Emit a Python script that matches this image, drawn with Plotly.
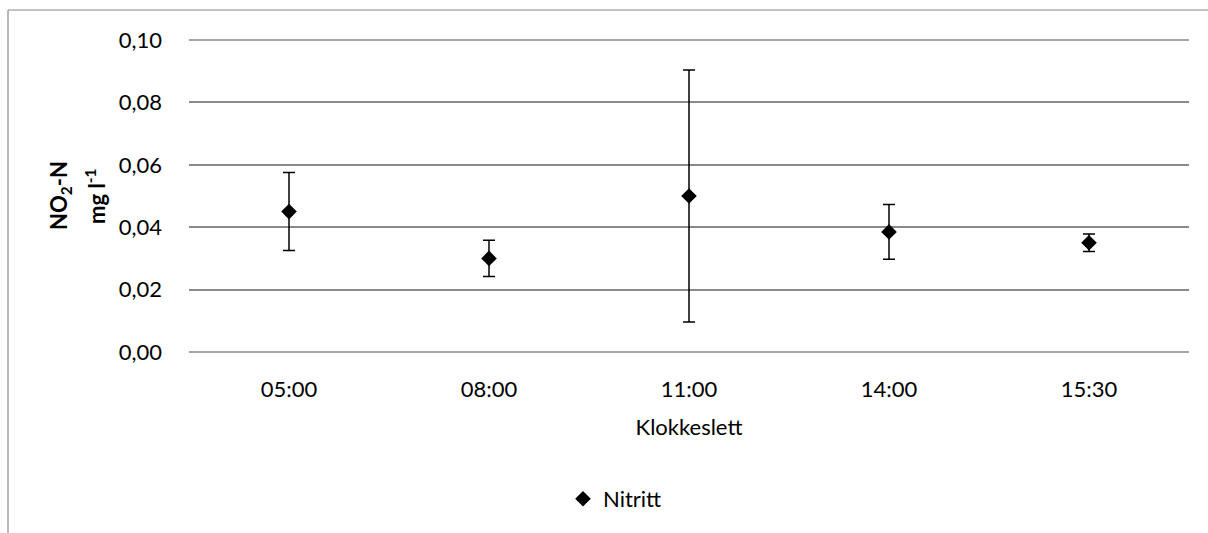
import plotly.graph_objects as go

categories = ["05:00", "08:00", "11:00", "14:00", "15:30"]
nitritt = [0.045, 0.030, 0.050, 0.0385, 0.035]
err = [0.0125, 0.0058, 0.0404, 0.0088, 0.0028]
y_ticks = [0.0, 0.02, 0.04, 0.06, 0.08, 0.10]
y_tick_labels = ["0,00", "0,02", "0,04", "0,06", "0,08", "0,10"]

W, H = 1208, 533
ml, mr, mt, mb = 189, 19, 40, 181
pw, ph = W - ml - mr, H - mt - mb

def px_x(p):
    return (p - ml) / pw

def px_y(p):
    return (H - mb - p) / ph

font = "Lato, 'Open Sans', sans-serif"
fs = 22
grid = "#8a8a8a"

fig = go.Figure()
fig.add_trace(go.Scatter(
    x=categories, y=nitritt, mode="markers", name="Nitritt",
    marker=dict(symbol="diamond", size=12, color="black"),
    error_y=dict(type="data", array=err, visible=True, color="black",
                 thickness=1.5, width=6),
))

fig.update_layout(
    width=W, height=H,
    margin=dict(l=ml, r=mr, t=mt, b=mb),
    paper_bgcolor="white", plot_bgcolor="white",
    font=dict(family=font, size=fs, color="black"),
    showlegend=True,
    legend=dict(orientation="h", x=px_x(563), y=px_y(499), xanchor="left",
                yanchor="middle", font=dict(size=fs), bgcolor="rgba(0,0,0,0)"),
    xaxis=dict(
        type="category", range=[-0.5, 4.5],
        showgrid=False, showline=False, ticks="", zeroline=False,
        ticklabelstandoff=22,
        title=dict(text="Klokkeslett", font=dict(size=fs), standoff=18),
        tickfont=dict(size=fs),
    ),
    yaxis=dict(
        range=[0, 0.10], tickvals=y_ticks, ticktext=y_tick_labels,
        showgrid=True, gridcolor=grid, gridwidth=1.5,
        showline=False, zeroline=False, ticks="",
        ticklabelstandoff=26, tickfont=dict(size=fs),
    ),
    annotations=[
        dict(text="<b>NO<sub>2</sub>-N</b>", xref="paper", yref="paper",
             x=px_x(60), y=0.5, xanchor="center", yanchor="middle",
             textangle=-90, showarrow=False, font=dict(size=fs)),
        dict(text="<b>mg l<sup>-1</sup></b>", xref="paper", yref="paper",
             x=px_x(95), y=0.5, xanchor="center", yanchor="middle",
             textangle=-90, showarrow=False, font=dict(size=fs)),
    ],
    shapes=[
        dict(type="line", xref="paper", yref="paper",
             x0=px_x(8), x1=px_x(1300), y0=px_y(10), y1=px_y(10),
             line=dict(color=grid, width=1.2)),
        dict(type="line", xref="paper", yref="paper",
             x0=px_x(8), x1=px_x(8), y0=px_y(10), y1=px_y(600),
             line=dict(color=grid, width=1.2)),
        dict(type="line", xref="paper", yref="paper",
             x0=0, x1=1, y0=0, y1=0, layer="below",
             line=dict(color=grid, width=1.5)),
        dict(type="line", xref="paper", yref="paper",
             x0=0, x1=1, y0=1, y1=1, layer="below",
             line=dict(color=grid, width=1.5)),
    ],
)

fig.write_html("out.html")
